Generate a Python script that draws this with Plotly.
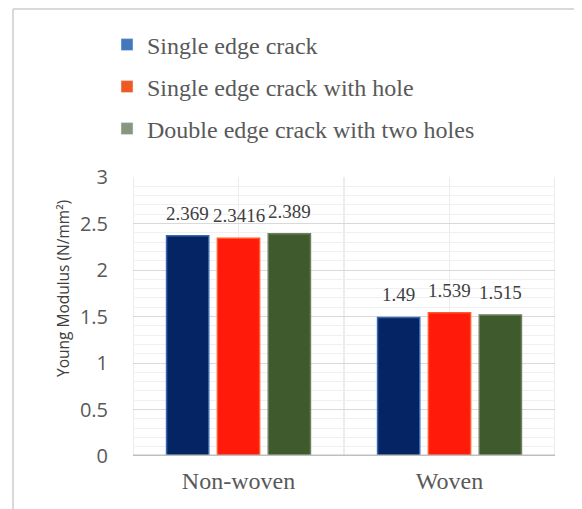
import plotly.graph_objects as go

categories = ["Non-woven", "Woven"]
series_names = ["Single edge crack", "Single edge crack with hole", "Double edge crack with two holes"]
values_single = [2.369, 1.49]
values_hole = [2.3416, 1.539]
values_double = [2.389, 1.515]
value_labels_single = ["2.369", "1.49"]
value_labels_hole = ["2.3416", "1.539"]
value_labels_double = ["2.389", "1.515"]

series_values = [values_single, values_hole, values_double]
series_labels = [value_labels_single, value_labels_hole, value_labels_double]
bar_colors = ["#042464", "#ff1a0a", "#3f5a2c"]
bar_edges = ["#3a68b0", "#ff5a2a", "#6d7f60"]
legend_colors = ["#4378bd", "#f05a22", "#8a9580"]

bar_width = 0.2
offsets = [-0.341, -0.1, 0.141]

OFF = 8  # page offset of the figure in the browser
W, H = 582, 509
plot_left, plot_right = 133 - OFF, 555 - OFF
plot_top, plot_bot = 177 - OFF, 456 - OFF
pw = plot_right - plot_left
ph = plot_bot - plot_top

def px(pix):
    return (pix - OFF - plot_left) / pw

def py(pix):
    return (plot_bot - (pix - OFF)) / ph

xs = list(range(len(categories)))
fig = go.Figure()
for i, name in enumerate(series_names):
    fig.add_trace(go.Bar(
        x=xs, y=series_values[i], width=bar_width, offset=offsets[i],
        marker=dict(color=bar_colors[i], line=dict(color=bar_edges[i], width=1.5)),
        showlegend=False, hoverinfo="skip"))
    for xi, v, lab in zip(xs, series_values[i], series_labels[i]):
        fig.add_annotation(x=xi + offsets[i] + bar_width / 2, y=v, text=lab,
                           showarrow=False, yanchor="bottom", yshift=10,
                           font=dict(family="Liberation Serif", size=19, color="#404040"))

# legend entries (one legend per entry to control spacing)
legend_ys = [45, 87, 129]
for i, name in enumerate(series_names):
    lname = "legend" if i == 0 else f"legend{i+1}"
    fig.add_trace(go.Bar(x=[None], y=[None], name=name, marker=dict(color=legend_colors[i]),
                         legend=lname, showlegend=True))

leg_common = dict(font=dict(family="Liberation Serif", size=24, color="#595959"),
                  bgcolor="rgba(0,0,0,0)", xanchor="left", yanchor="middle",
                  itemwidth=30, tracegroupgap=0)
fig.update_layout(
    legend=dict(x=px(107), y=py(legend_ys[0]), **leg_common),
    legend2=dict(x=px(107), y=py(legend_ys[1]), **leg_common),
    legend3=dict(x=px(107), y=py(legend_ys[2]), **leg_common),
)

# vertical gridlines
for xv in [-0.5, 0.5, 1.5]:
    fig.add_shape(type="line", x0=xv, x1=xv, y0=0, y1=3, xref="x", yref="y",
                  line=dict(color="#d9d9d9", width=1), layer="below")
for xv in [0, 1]:
    fig.add_shape(type="line", x0=xv, x1=xv, y0=0, y1=3, xref="x", yref="y",
                  line=dict(color="#ececec", width=1), layer="below")

# outer border (chart frame)
fig.add_shape(type="line", xref="paper", yref="paper",
              x0=px(13), x1=px(13), y0=py(9), y1=py(530),
              line=dict(color="#d9d9d9", width=2))
fig.add_shape(type="line", xref="paper", yref="paper",
              x0=px(13), x1=px(620), y0=py(9), y1=py(9),
              line=dict(color="#d9d9d9", width=2))

# y title as annotation
fig.add_annotation(xref="paper", yref="paper", x=px(63), y=py(289),
                   text="Young Modulus (N/mm²)", textangle=-90, showarrow=False,
                   xanchor="center", yanchor="middle",
                   font=dict(family="Open Sans", size=15.5, color="#404040"))

fig.update_layout(
    width=W, height=H,
    margin=dict(l=plot_left, r=W - plot_right, t=plot_top, b=H - plot_bot),
    paper_bgcolor="white", plot_bgcolor="white",
    barmode="overlay",
    xaxis=dict(range=[-0.5, 1.5], tickvals=xs, ticktext=categories, showgrid=False,
               zeroline=False, showline=False, ticks="",
               tickfont=dict(family="Liberation Serif", size=24, color="#595959"),
               ticklabelstandoff=8),
    yaxis=dict(range=[0, 3], dtick=0.5, tick0=0, showgrid=True, gridcolor="#d9d9d9",
               gridwidth=1, zeroline=False, showline=False, ticks="",
               tickfont=dict(family="Open Sans", size=20, color="#595959"),
               ticklabelstandoff=24,
               minor=dict(dtick=0.1, showgrid=True, gridcolor="#f0f0f0", gridwidth=1)),
)
# bottom axis line
fig.add_shape(type="line", xref="paper", yref="y", x0=0, x1=1, y0=0, y1=0,
              line=dict(color="#bfbfbf", width=3))

fig.write_html("out.html")
